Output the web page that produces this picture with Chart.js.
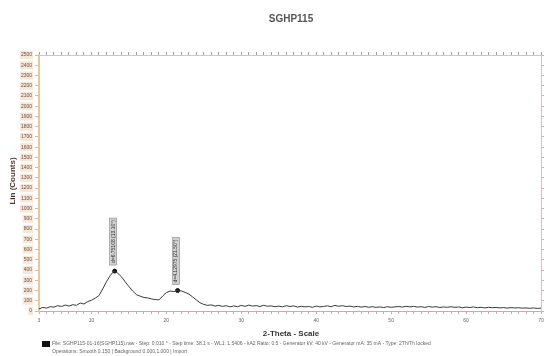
<!DOCTYPE html>
<html>
<head>
<meta charset="utf-8">
<script src="https://cdn.jsdelivr.net/npm/chart.js@4.4.1/dist/chart.umd.min.js"></script>
<style>
  html, body { margin: 0; padding: 0; background: #fff; }
  #wrap { width: 549px; height: 356px; position: relative; }
</style>
</head>
<body>
<div id="wrap"><canvas id="xrd"></canvas></div>
<script>
// --- data ---
const chartTitle = 'SGHP115';
const twoTheta = [
  3, 3.5, 4, 4.5, 5, 5.5, 6, 6.5, 7, 7.5,
  8, 8.5, 9, 9.5, 10, 10.5, 11, 11.5, 12, 12.5,
  13, 13.5, 14, 14.5, 15, 15.5, 16, 16.5, 17, 17.5,
  18, 18.5, 19, 19.5, 20, 20.5, 21, 21.5, 22, 22.5,
  23, 23.5, 24, 24.5, 25, 25.5, 26, 26.5, 27, 27.5,
  28, 28.5, 29, 29.5, 30, 30.5, 31, 31.5, 32, 32.5,
  33, 33.5, 34, 34.5, 35, 35.5, 36, 36.5, 37, 37.5,
  38, 38.5, 39, 39.5, 40, 40.5, 41, 41.5, 42, 42.5,
  43, 43.5, 44, 44.5, 45, 45.5, 46, 46.5, 47, 47.5,
  48, 48.5, 49, 49.5, 50, 50.5, 51, 51.5, 52, 52.5,
  53, 53.5, 54, 54.5, 55, 55.5, 56, 56.5, 57, 57.5,
  58, 58.5, 59, 59.5, 60, 60.5, 61, 61.5, 62, 62.5,
  63, 63.5, 64, 64.5, 65, 65.5, 66, 66.5, 67, 67.5,
  68, 68.5, 69, 69.5, 70
];
const counts = [
  20, 35, 28, 42, 38, 52, 44, 58, 48, 62,
  55, 78, 68, 92, 105, 125, 150, 215, 285, 345,
  390, 370, 335, 285, 240, 195, 160, 145, 132, 128,
  118, 112, 108, 145, 180, 195, 190, 200, 196, 182,
  165, 138, 108, 80, 64, 55, 60, 48, 55, 45,
  52, 40, 50, 42, 55, 45, 58, 48, 52, 44,
  56, 46, 50, 42, 48, 40, 52, 44, 50, 38,
  46, 40, 44, 36, 48, 40, 45, 50, 42, 55,
  46, 52, 44, 48, 40, 45, 38, 44, 36, 42,
  35, 40, 34, 42, 36, 40, 44, 38, 46, 40,
  45, 38, 42, 35, 44, 38, 42, 34, 40, 36,
  42, 35, 40, 32, 38, 34, 40, 32, 36, 30,
  36, 32, 35, 30, 34, 28, 33, 30, 32, 28,
  30, 26, 30, 25, 28
];
const peakTheta = [13.1, 21.5];
const peakCounts = [390, 200];
const peakLabels = ['d=6.75108 (13.10°)', 'd=4.12975 (21.50°)'];
const xRange = [3, 70];
const yRange = [0, 2500];
const xLabelTicks = [3, 10, 20, 30, 40, 50, 60, 70];

const footerLines = [
  'File: SGHP115-01-16(SGHP115).raw - Step: 0.010 ° - Step time: 38.1 s - WL1: 1.5406 - kA2 Ratio: 0.5 - Generator kV: 40 kV - Generator mA: 35 mA - Type: 2Th/Th locked',
  'Operations: Smooth 0.150 | Background 0.000,1.000 | Import'
];

const FONT = '"Liberation Sans", Arial, sans-serif';

const decor = {
  id: 'decor',
  beforeDraw(chart) {
    const ctx = chart.ctx;
    ctx.save();
    ctx.fillStyle = '#fff';
    ctx.fillRect(0, 0, chart.width, chart.height);
    ctx.restore();
  },
  afterDatasetsDraw(chart) {
    // vertical peak labels above the markers
    const ctx = chart.ctx;
    const pts = chart.getDatasetMeta(1).data;
    ctx.save();
    ctx.font = '5px ' + FONT;
    pts.forEach((p, i) => {
      const len = ctx.measureText(peakLabels[i]).width + 4;
      const bottom = p.y - 6;
      ctx.fillStyle = '#d0d0d0';
      ctx.fillRect(p.x - 5, bottom - len, 7, len);
      ctx.strokeStyle = '#888';
      ctx.lineWidth = 0.6;
      ctx.strokeRect(p.x - 5, bottom - len, 7, len);
      ctx.translate(p.x - 1.5, bottom - len / 2);
      ctx.rotate(-Math.PI / 2);
      ctx.fillStyle = '#333';
      ctx.textAlign = 'center';
      ctx.textBaseline = 'middle';
      ctx.fillText(peakLabels[i], 0, 0);
      ctx.setTransform(1, 0, 0, 1, 0, 0);
    });
    ctx.restore();
  },
  afterDraw(chart) {
    const ctx = chart.ctx;
    ctx.save();
    // title
    ctx.fillStyle = '#555';
    ctx.font = 'bold 10px ' + FONT;
    ctx.textAlign = 'center';
    ctx.textBaseline = 'middle';
    ctx.fillText(chartTitle, 291, 19);
    // axis titles
    ctx.fillStyle = '#333';
    ctx.font = 'bold 8px ' + FONT;
    ctx.fillText('2-Theta - Scale', 291, 334);
    ctx.save();
    ctx.translate(13, 181);
    ctx.rotate(-Math.PI / 2);
    ctx.fillStyle = '#4a3a36';
    ctx.fillText('Lin (Counts)', 0, 0);
    ctx.restore();
    // footer
    ctx.fillStyle = '#111';
    ctx.fillRect(42, 341, 8, 6);
    ctx.fillStyle = '#666';
    ctx.font = '5px ' + FONT;
    ctx.textAlign = 'left';
    ctx.fillText(footerLines[0], 52, 344, 476);
    ctx.fillText(footerLines[1], 52, 352, 170);
    ctx.restore();
  }
};

new Chart(document.getElementById('xrd'), {
  type: 'line',
  data: {
    datasets: [
      {
        data: twoTheta.map((t, i) => ({ x: t, y: counts[i] })),
        borderColor: '#3a3a3a',
        borderWidth: 1,
        pointRadius: 0,
        tension: 0,
        xAxisID: 'x',
        yAxisID: 'y'
      },
      {
        data: peakTheta.map((t, i) => ({ x: t, y: peakCounts[i] })),
        showLine: false,
        pointRadius: 2,
        pointBackgroundColor: '#111',
        pointBorderColor: '#111',
        xAxisID: 'x',
        yAxisID: 'y'
      }
    ]
  },
  options: {
    responsive: true,
    maintainAspectRatio: false,
    animation: false,
    layout: { padding: { top: 51, right: 0, bottom: 0, left: 0 } },
    plugins: { legend: { display: false }, tooltip: { enabled: false } },
    scales: {
      x: {
        type: 'linear', position: 'bottom',
        min: xRange[0], max: xRange[1],
        afterFit(s) { s.height = 45; },
        ticks: {
          stepSize: 1, autoSkip: false, maxRotation: 0, padding: 4,
          color: '#666', font: { size: 5, family: FONT },
          callback: v => xLabelTicks.includes(v) ? String(v) : ''
        },
        grid: { drawOnChartArea: false, tickLength: 3, color: '#d9a3ab' },
        border: { color: '#d9a3ab' }
      },
      x2: {
        type: 'linear', position: 'top',
        min: xRange[0], max: xRange[1],
        afterFit(s) { s.height = 4; },
        ticks: { stepSize: 1, display: false },
        grid: { drawOnChartArea: false, tickLength: 3, color: '#a0a0a0' },
        border: { color: '#c8c8c8' }
      },
      y: {
        type: 'linear', position: 'left',
        min: yRange[0], max: yRange[1],
        afterFit(s) { s.width = 39; },
        ticks: {
          stepSize: 100, autoSkip: false, padding: 3,
          color: '#6e4a4a', font: { size: 5, family: FONT },
          showLabelBackdrop: true, backdropColor: '#f6e8d6', backdropPadding: 1,
          callback: v => String(v)
        },
        grid: { drawOnChartArea: false, tickLength: 4, color: '#e0b890' },
        border: { color: '#e6c8a0', width: 2 }
      },
      y2: {
        type: 'linear', position: 'right',
        min: yRange[0], max: yRange[1],
        afterFit(s) { s.width = 8; },
        ticks: { stepSize: 100, display: false },
        grid: { drawOnChartArea: false, tickLength: 3, color: '#e0a8b8' },
        border: { color: '#e8c0a8' }
      }
    }
  },
  plugins: [decor]
});
</script>
</body>
</html>
